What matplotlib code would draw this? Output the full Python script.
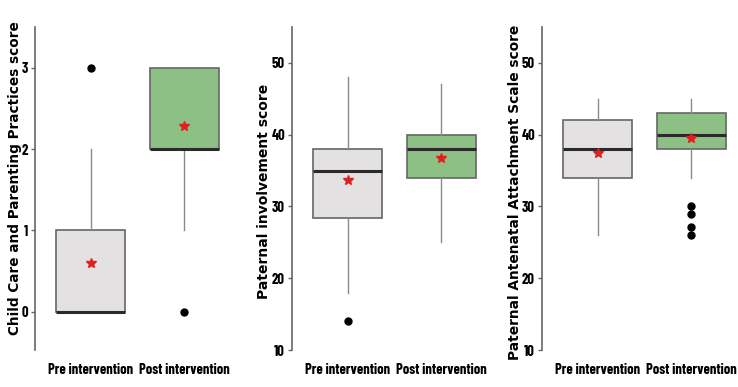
import matplotlib
matplotlib.use("Agg")
import matplotlib.pyplot as plt

groups = ["Pre intervention", "Post intervention"]

# panel 1: Child care and parenting practices
cc_q1 = [0, 2]
cc_med = [0, 2]
cc_q3 = [1, 3]
cc_wlo = [0, 1]
cc_whi = [2, 3]
cc_mean = [0.6, 2.28]
cc_fliers = [[3], [0]]

# panel 2: Paternal involvement
pi_q1 = [28.4, 34]
pi_med = [35, 38]
pi_q3 = [38, 40]
pi_wlo = [18, 25]
pi_whi = [48, 47]
pi_mean = [33.7, 36.7]
pi_fliers = [[14], []]

# panel 3: Paternal antenatal attachment
pa_q1 = [34, 38]
pa_med = [38, 40]
pa_q3 = [42, 43]
pa_wlo = [26, 34]
pa_whi = [45, 45]
pa_mean = [37.5, 39.6]
pa_fliers = [[], [30, 29, 27.1, 26]]

ylabels = ["Child Care and Parenting Practices score",
           "Paternal involvement score",
           "Paternal Antenatal Attachment Scale score"]

FILLS = ["#e3e1e1", "#8cc084"]
NARROW = ["Barlow Condensed", "DejaVu Sans"]


def make_stats(q1, med, q3, wlo, whi, mean, fliers):
    stats = []
    for i in range(2):
        stats.append(dict(q1=q1[i], med=med[i], q3=q3[i], whislo=wlo[i],
                          whishi=whi[i], mean=mean[i], fliers=fliers[i], label=groups[i]))
    return stats


panels = [
    (make_stats(cc_q1, cc_med, cc_q3, cc_wlo, cc_whi, cc_mean, cc_fliers), (-0.47, 3.5), [0, 1, 2, 3]),
    (make_stats(pi_q1, pi_med, pi_q3, pi_wlo, pi_whi, pi_mean, pi_fliers), (10, 55), [10, 20, 30, 40, 50]),
    (make_stats(pa_q1, pa_med, pa_q3, pa_wlo, pa_whi, pa_mean, pa_fliers), (10, 55), [10, 20, 30, 40, 50]),
]

fig = plt.figure(figsize=(7.38, 3.87), dpi=100)
W, H = 738.0, 387.0
lefts = [35, 292, 542]
label_x = [15, 264, 515]
label_y = [178, 191, 192]
label_size = [9.8, 10.0, 9.9]

for idx, (stats, ylim, yticks) in enumerate(panels):
    ax = fig.add_axes([lefts[idx] / W, 1 - 350 / H, 205 / W, 323 / H])
    bp = ax.bxp(stats, positions=[1, 2], widths=0.74, patch_artist=True,
                showmeans=True, showcaps=False,
                boxprops=dict(edgecolor="#666666", linewidth=1.2),
                medianprops=dict(color="#2a2a2a", linewidth=2.2),
                whiskerprops=dict(color="#8a8a8a", linewidth=1.0),
                flierprops=dict(marker="o", markerfacecolor="black", markeredgecolor="black", markersize=5),
                meanprops=dict(marker="*", markerfacecolor="#e02020", markeredgecolor="#e02020", markersize=7))
    for patch, c in zip(bp["boxes"], FILLS):
        patch.set_facecolor(c)
    ax.set_xlim(0.4, 2.6)
    ax.set_ylim(*ylim)
    ax.set_yticks(yticks)
    ax.set_yticklabels([str(t) for t in yticks], family=NARROW, fontweight="bold", fontsize=10.5)
    ax.set_xticks([1, 2])
    ax.set_xticklabels(groups, family=NARROW, fontweight="bold", fontsize=10.5)
    ax.tick_params(axis="x", length=0, pad=9)
    ax.tick_params(axis="y", length=3, color="#666666", width=1, pad=2)
    for s in ["top", "right", "bottom"]:
        ax.spines[s].set_visible(False)
    ax.spines["left"].set_color("#666666")
    ax.spines["left"].set_linewidth(1.2)
    fig.text(label_x[idx] / W, 1 - label_y[idx] / H, ylabels[idx], rotation=90, ha="center", va="center",
             fontweight="bold", fontsize=label_size[idx], family=["DejaVu Sans"])

fig.savefig("out.png", dpi=100)
